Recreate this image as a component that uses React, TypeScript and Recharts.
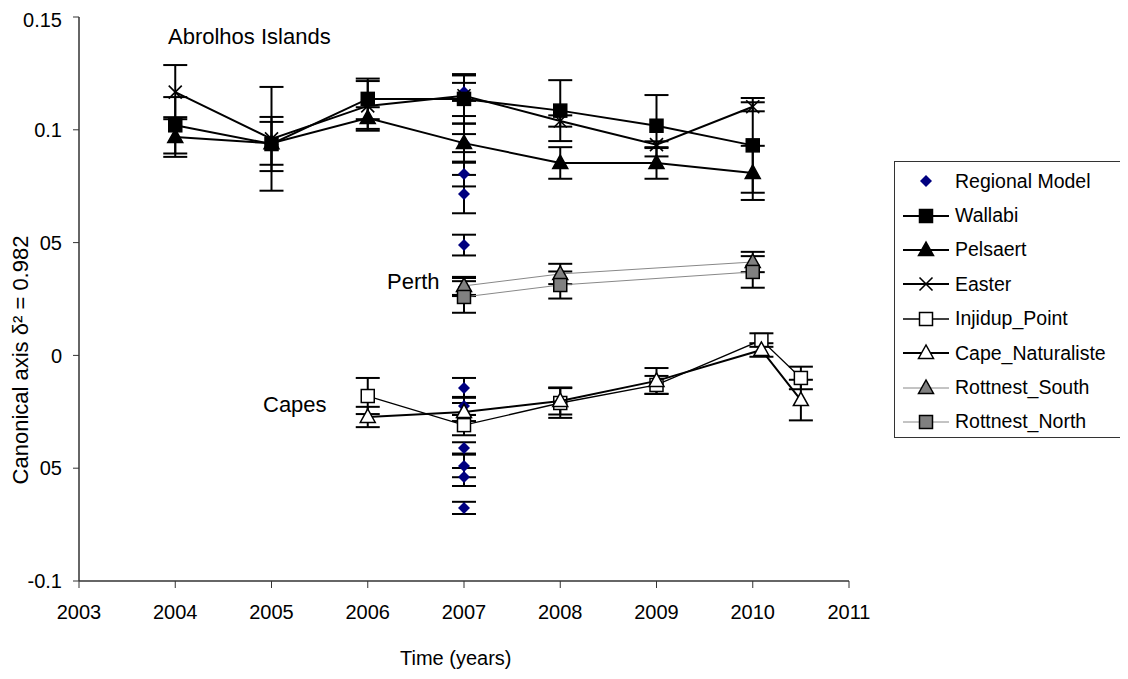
import { ComposedChart, ErrorBar, Scatter, XAxis, YAxis } from 'recharts'

// tick labels
const yearTicks = [2003, 2004, 2005, 2006, 2007, 2008, 2009, 2010, 2011]
const valueTicks = [-0.1, -0.05, 0, 0.05, 0.1, 0.15]

// Abrolhos Islands
const abrolhosYears = [2004, 2005, 2006, 2007, 2008, 2009, 2010]
const wallabi = [0.102, 0.0937, 0.1137, 0.1137, 0.1085, 0.1018, 0.0931]
const wallabiErr = [0.0125, 0.012, 0.009, 0.011, 0.0135, 0.0136, 0.021]
const pelsaert = [0.0968, 0.094, 0.1052, 0.0941, 0.0853, 0.0853, 0.0809]
const pelsaertErr = [0.0088, 0.0095, 0.0048, 0.0087, 0.007, 0.007, 0.012]
const easter = [0.1167, 0.096, 0.1106, 0.1151, 0.1039, 0.0934, 0.1102]
const easterErr = [0.012, 0.023, 0.011, 0.009, 0.0025, 0.0015, 0.002]

// Perth
const perthYears = [2007, 2008, 2010]
const rottnestSouth = [0.0308, 0.0361, 0.0414]
const rottnestSouthErr = [0.004, 0.0045, 0.0045]
const rottnestNorth = [0.0259, 0.0312, 0.037]
const rottnestNorthErr = [0.007, 0.006, 0.007]

// Capes
const capesYears = [2006, 2007, 2008, 2009, 2010.09, 2010.5]
const injidup = [-0.018, -0.0309, -0.0211, -0.0131, 0.0068, -0.01]
const injidupErr = [0.008, 0.0045, 0.0066, 0.004, 0.003, 0.005]
const capeNat = [-0.0273, -0.0251, -0.0202, -0.0113, 0.0024, -0.0198]
const capeNatErr = [0.0045, 0.004, 0.006, 0.0057, 0.003, 0.009]

// Regional model, all in 2007
const regionalYear = 2007
const regional = [0.1168, 0.0941, 0.0804, 0.0715, 0.0489, 0.0303, -0.0144, -0.0224, -0.041, -0.049, -0.0539, -0.0676]
const regionalErr = [0.004, 0.004, 0.0055, 0.0085, 0.0046, 0.004, 0.0044, 0.004, 0.0025, 0.005, 0.004, 0.0027]

const rows = (xs: number[], ys: number[], es: number[]) => ys.map((y, i) => ({ x: xs[i], y, e: es[i] }))

const FONT = '"Liberation Sans", Arial, sans-serif'
const AXIS = '#333'

type MarkerKind = 'square' | 'triangle' | 'cross' | 'diamond'

function marker(kind: MarkerKind, fill: string, cx: number, cy: number) {
  if (kind === 'square')
    return <rect x={cx - 6.5} y={cy - 6.5} width={13} height={13} fill={fill} stroke="#000" strokeWidth={1.5} />
  if (kind === 'triangle')
    return (
      <polygon
        points={`${cx},${cy - 8} ${cx - 7.5},${cy + 5.5} ${cx + 7.5},${cy + 5.5}`}
        fill={fill}
        stroke="#000"
        strokeWidth={1.5}
      />
    )
  if (kind === 'cross')
    return (
      <g stroke="#000" strokeWidth={1.6}>
        <line x1={cx - 6.5} y1={cy - 6.5} x2={cx + 6.5} y2={cy + 6.5} />
        <line x1={cx - 6.5} y1={cy + 6.5} x2={cx + 6.5} y2={cy - 6.5} />
      </g>
    )
  return <polygon points={`${cx},${cy - 6} ${cx + 6},${cy} ${cx},${cy + 6} ${cx - 6},${cy}`} fill="#000080" />
}

const shape = (kind: MarkerKind, fill: string) => (p: any) => marker(kind, fill, p.cx, p.cy)

const legendItems: { name: string; kind: MarkerKind; fill: string; line: string | null; lw: number }[] = [
  { name: 'Regional Model', kind: 'diamond', fill: '#000080', line: null, lw: 0 },
  { name: 'Wallabi', kind: 'square', fill: '#000', line: '#000', lw: 2 },
  { name: 'Pelsaert', kind: 'triangle', fill: '#000', line: '#000', lw: 2 },
  { name: 'Easter', kind: 'cross', fill: '#000', line: '#000', lw: 2 },
  { name: 'Injidup_Point', kind: 'square', fill: '#fff', line: '#000', lw: 1.3 },
  { name: 'Cape_Naturaliste', kind: 'triangle', fill: '#fff', line: '#000', lw: 2 },
  { name: 'Rottnest_South', kind: 'triangle', fill: '#808080', line: '#888', lw: 1 },
  { name: 'Rottnest_North', kind: 'square', fill: '#808080', line: '#888', lw: 1 },
]

export default function App() {
  const series = [
    { data: rows(abrolhosYears, wallabi, wallabiErr), ...legendItems[1] },
    { data: rows(abrolhosYears, pelsaert, pelsaertErr), ...legendItems[2] },
    { data: rows(abrolhosYears, easter, easterErr), ...legendItems[3] },
    { data: rows(capesYears, injidup, injidupErr), ...legendItems[4] },
    { data: rows(capesYears, capeNat, capeNatErr), ...legendItems[5] },
    { data: rows(perthYears, rottnestSouth, rottnestSouthErr), ...legendItems[6] },
    { data: rows(perthYears, rottnestNorth, rottnestNorthErr), ...legendItems[7] },
  ]
  const regionalData = regional.map((y, i) => ({ x: regionalYear, y, e: regionalErr[i] }))

  const tick = { fontSize: 20, fill: '#000', fontFamily: FONT }

  return (
    <div style={{ position: 'relative', width: 1112, height: 663, fontFamily: FONT, color: '#000' }}>
      <ComposedChart width={1112} height={663} margin={{ top: 9, right: 271, bottom: 0, left: 0 }}>
        <XAxis
          dataKey="x"
          type="number"
          domain={[2003, 2011]}
          ticks={yearTicks}
          allowDataOverflow
          height={90}
          tickSize={7}
          tickMargin={17}
          tick={tick}
          stroke={AXIS}
          axisLine={{ stroke: AXIS, strokeWidth: 1.5 }}
        />
        <YAxis
          dataKey="y"
          type="number"
          domain={[-0.1, 0.15]}
          ticks={valueTicks}
          allowDataOverflow
          width={71}
          tickSize={6}
          tickMargin={11}
          tick={tick}
          stroke={AXIS}
          axisLine={{ stroke: AXIS, strokeWidth: 1.5 }}
          tickFormatter={(v: number) => (Math.abs(Math.abs(v) - 0.05) < 1e-9 ? '05' : String(v))}
        />
        <Scatter data={regionalData} shape={shape('diamond', '#000080')} isAnimationActive={false}>
          <ErrorBar dataKey="e" direction="y" width={12} stroke="#000" strokeWidth={2} />
        </Scatter>
        {series.map((s) => (
          <Scatter
            key={s.name}
            name={s.name}
            data={s.data}
            line={{ stroke: s.line as string, strokeWidth: s.lw }}
            lineType="joint"
            shape={shape(s.kind, s.fill)}
            isAnimationActive={false}
          >
            <ErrorBar dataKey="e" direction="y" width={12} stroke="#000" strokeWidth={2} />
          </Scatter>
        ))}
      </ComposedChart>

      <span style={{ position: 'absolute', left: 160, top: 18, fontSize: 22, lineHeight: '22px' }}>Abrolhos Islands</span>
      <span style={{ position: 'absolute', left: 379, top: 263, fontSize: 22, lineHeight: '22px' }}>Perth</span>
      <span style={{ position: 'absolute', left: 255, top: 386, fontSize: 22, lineHeight: '22px' }}>Capes</span>
      <span style={{ position: 'absolute', left: 392, top: 640, fontSize: 20, lineHeight: '20px' }}>Time (years)</span>
      <div
        style={{
          position: 'absolute',
          left: 13 - 160,
          top: 352 - 11,
          width: 320,
          height: 22,
          lineHeight: '22px',
          fontSize: 22,
          textAlign: 'center',
          transform: 'rotate(-90deg)',
          whiteSpace: 'nowrap',
        }}
      >
        Canonical axis δ² = 0.982
      </div>

      <div
        style={{
          position: 'absolute',
          left: 886,
          top: 153,
          width: 228,
          height: 277,
          boxSizing: 'border-box',
          border: `1.5px solid ${AXIS}`,
          background: '#fff',
          paddingTop: 2,
        }}
      >
        {legendItems.map((it) => (
          <div key={it.name} style={{ display: 'flex', alignItems: 'center', height: 34.4 }}>
            <svg width={60} height={24} style={{ flex: 'none' }}>
              {it.line && <line x1={8} y1={12} x2={54} y2={12} stroke={it.line} strokeWidth={it.lw} />}
              {marker(it.kind, it.fill, 31, 12)}
            </svg>
            <span style={{ fontSize: 19.5, whiteSpace: 'nowrap' }}>{it.name}</span>
          </div>
        ))}
      </div>
    </div>
  )
}
